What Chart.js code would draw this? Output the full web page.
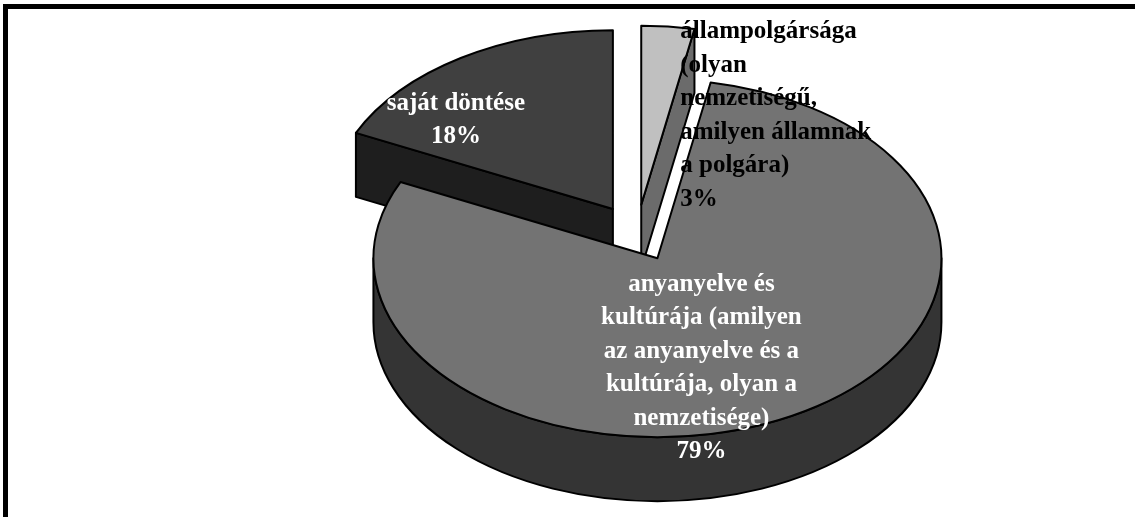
<!DOCTYPE html>
<html>
<head>
<meta charset="utf-8">
<script src="https://cdn.jsdelivr.net/npm/chart.js@4"></script>
<style>
  html, body { margin: 0; padding: 0; background: #fff; overflow: hidden; }
  #wrap { position: relative; width: 1135px; height: 517px; }
  #frame { position: absolute; left: 3px; top: 4px; width: 1200px; height: 600px;
           border-top: 5px solid #000; border-left: 5px solid #000; pointer-events: none; }
  canvas { position: absolute; left: 0; top: 0; }
</style>
</head>
<body>
<div id="wrap">
  <canvas id="c" width="1135" height="517"></canvas>
  <div id="frame"></div>
</div>
<script>
// ---- data ----
const categories = [
  "állampolgársága (olyan nemzetiségű, amilyen államnak a polgára)",
  "anyanyelve és kultúrája (amilyen az anyanyelve és a kultúrája, olyan a nemzetisége)",
  "saját döntése"
];
const values = [3, 79, 18];
const labelLines = [
  ["állampolgársága", "(olyan", "nemzetiségű,", "amilyen államnak", "a polgára)"],
  ["anyanyelve és", "kultúrája (amilyen", "az anyanyelve és a", "kultúrája, olyan a", "nemzetisége)"],
  ["saját döntése"]
];

// ---- style ----
const topColors  = ["#c0c0c0", "#737373", "#404040"];
const sideColors = ["#6b6b6b", "#343434", "#1e1e1e"];
const textColors = ["#000000", "#ffffff", "#ffffff"];
const labelAlign = ["left", "center", "center"];
const labelShift = [[39, -89], [44, 110], [-157, -89]]; // from slice centre
const TILT = 0.63, DEPTH = 64, LINE_H = 33.5;
const FONT = "bold 25px 'Liberation Serif', 'Times New Roman', serif";

const pie3d = {
  id: 'pie3d',
  beforeDatasetsDraw(chart) {
    const ctx = chart.ctx;
    const arcs = chart.getDatasetMeta(0).data;
    const k = TILT, d = DEPTH;
    const slices = arcs.map((a, i) => {
      const mid = (a.startAngle + a.endAngle) / 2;
      const off = a.options.offset || 0;
      return { i, mid, s: a.startAngle, e: a.endAngle, r: a.outerRadius,
               cx: a.x + Math.cos(mid) * off, cy: a.y + Math.sin(mid) * off * k };
    });
    const order = slices.slice().sort((p, q) => Math.sin(p.mid) - Math.sin(q.mid));
    ctx.save();
    ctx.lineWidth = 2;
    ctx.strokeStyle = '#000';
    ctx.lineJoin = 'round';
    const P = (sl, ang, drop) => [sl.cx + sl.r * Math.cos(ang), sl.cy + sl.r * k * Math.sin(ang) + drop];
    const face = (pts, fill) => {
      ctx.beginPath();
      pts.forEach((p, j) => j ? ctx.lineTo(p[0], p[1]) : ctx.moveTo(p[0], p[1]));
      ctx.closePath();
      ctx.fillStyle = fill; ctx.fill(); ctx.stroke();
    };
    order.forEach(sl => {
      const side = sideColors[sl.i];
      if (Math.cos(sl.s) < -1e-6) {
        const t = P(sl, sl.s, 0), b = P(sl, sl.s, d);
        face([[sl.cx, sl.cy], t, b, [sl.cx, sl.cy + d]], side);
      }
      if (Math.cos(sl.e) > 1e-6) {
        const t = P(sl, sl.e, 0), b = P(sl, sl.e, d);
        face([[sl.cx, sl.cy], t, b, [sl.cx, sl.cy + d]], side);
      }
      for (const sh of [-2 * Math.PI, 0, 2 * Math.PI]) {
        const lo = Math.max(sl.s, sh), hi = Math.min(sl.e, Math.PI + sh);
        if (hi > lo) {
          ctx.beginPath();
          ctx.ellipse(sl.cx, sl.cy, sl.r, sl.r * k, 0, lo, hi, false);
          const pb = P(sl, hi, d);
          ctx.lineTo(pb[0], pb[1]);
          ctx.ellipse(sl.cx, sl.cy + d, sl.r, sl.r * k, 0, hi, lo, true);
          ctx.closePath();
          ctx.fillStyle = side; ctx.fill(); ctx.stroke();
        }
      }
      ctx.beginPath();
      ctx.moveTo(sl.cx, sl.cy);
      ctx.ellipse(sl.cx, sl.cy, sl.r, sl.r * k, 0, sl.s, sl.e, false);
      ctx.closePath();
      ctx.fillStyle = topColors[sl.i]; ctx.fill(); ctx.stroke();
    });
    const total = values.reduce((a, b) => a + b, 0);
    ctx.font = FONT;
    ctx.textBaseline = 'middle';
    slices.forEach(sl => {
      const lines = labelLines[sl.i].concat([Math.round(values[sl.i] / total * 100) + '%']);
      const x = sl.cx + labelShift[sl.i][0];
      const yc = sl.cy + labelShift[sl.i][1];
      const y0 = yc - (lines.length - 1) * LINE_H / 2;
      ctx.fillStyle = textColors[sl.i];
      ctx.textAlign = labelAlign[sl.i];
      lines.forEach((ln, j) => ctx.fillText(ln, x, y0 + j * LINE_H));
    });
    ctx.restore();
    return false;
  }
};

new Chart(document.getElementById('c'), {
  type: 'pie',
  data: {
    labels: categories,
    datasets: [{ data: values, backgroundColor: topColors, offset: 45, radius: 284, borderWidth: 0 }]
  },
  options: {
    responsive: false,
    devicePixelRatio: 1,
    animation: false,
    events: [],
    layout: { padding: { left: 139, right: 0, top: 0, bottom: 51 } },
    plugins: { legend: { display: false }, tooltip: { enabled: false } }
  },
  plugins: [pie3d]
});
</script>
</body>
</html>
